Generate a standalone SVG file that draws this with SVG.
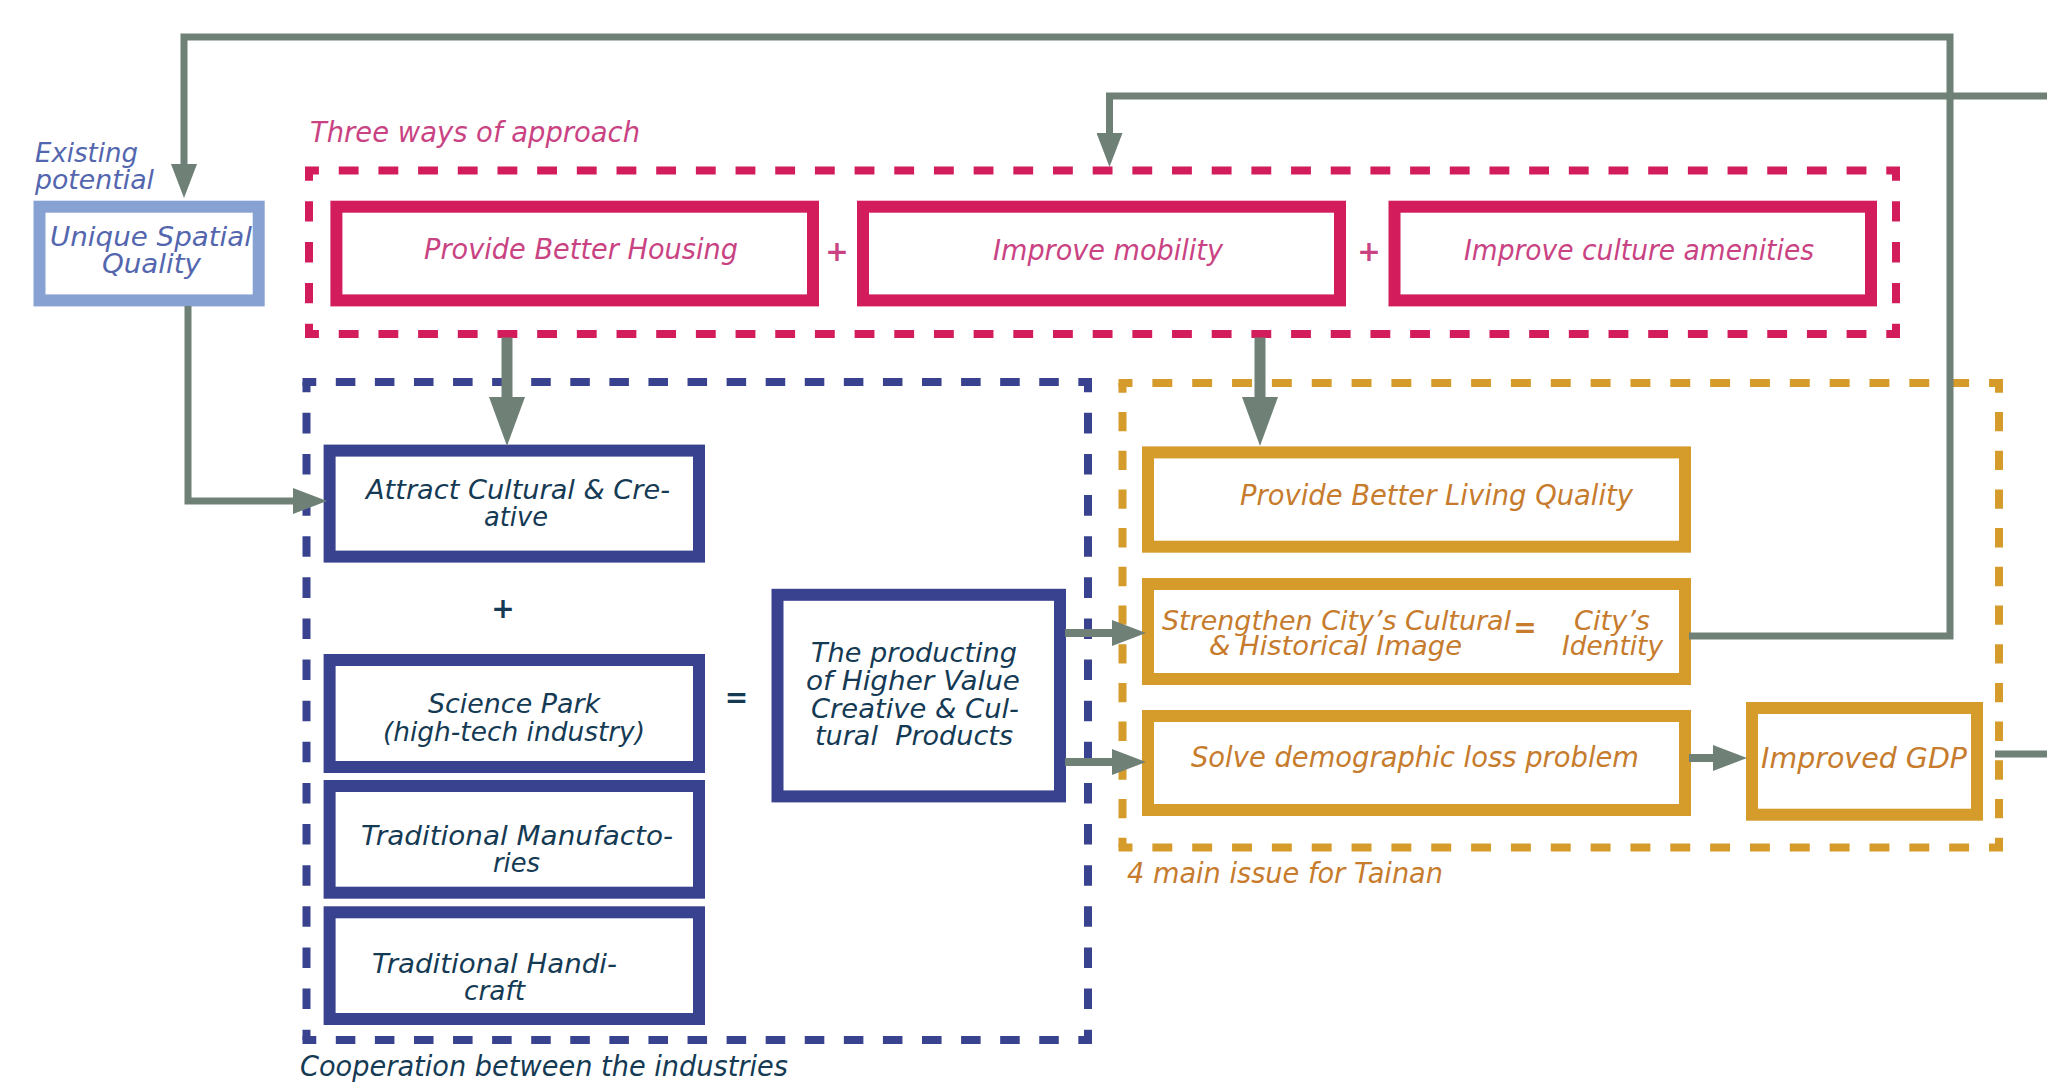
<svg xmlns="http://www.w3.org/2000/svg" width="2047" height="1087" viewBox="0 0 2047 1087">
<defs>
<style>
text { font-family: "DejaVu Sans", "Liberation Sans", sans-serif; font-style: italic; font-size: 28px; }
.t2 { font-size: 27px; }
.sym { font-style: normal; font-weight: bold; text-anchor: middle; }
.pk { fill: #c94383; }
.nv { fill: #153a54; }
.gd { fill: #c67b2d; }
.lb { fill: #5466ae; }
.box { fill: #ffffff; stroke-width: 12; }
.bp { stroke: #d31c5b; }
.bb { stroke: #39428e; }
.bg { stroke: #d59c2c; }
.bl { stroke: #88a1d3; }
.frame line { fill: none; stroke-width: 8; }
.fp line { stroke: #d31c5b; }
.fb line { stroke: #39428e; }
.fg line { stroke: #d59c2c; }
.conn { fill: none; stroke: #6f8077; stroke-width: 7; stroke-linejoin: miter; }
.thick { stroke-width: 11; }
.mid { stroke-width: 8; }
</style>
<marker id="ah" markerUnits="userSpaceOnUse" markerWidth="34" markerHeight="26" refX="0" refY="13" orient="auto" viewBox="0 0 34 26">
<path d="M0,0 L34,13 L0,26 z" fill="#6f8077"/>
</marker>
<marker id="ahL" markerUnits="userSpaceOnUse" markerWidth="49" markerHeight="36" refX="0" refY="18" orient="auto" viewBox="0 0 49 36">
<path d="M0,0 L49,18 L0,36 z" fill="#6f8077"/>
</marker>
</defs>
<rect x="0" y="0" width="2047" height="1087" fill="#ffffff"/>

<g id="frame-approach" class="frame fp">
<line x1="305" y1="170.5" x2="1900" y2="170.5" stroke-dasharray="19.84 19.84" stroke-dashoffset="5.92"/>
<line x1="305" y1="334" x2="1900" y2="334" stroke-dasharray="19.84 19.84" stroke-dashoffset="5.92"/>
<line x1="309" y1="170.5" x2="309" y2="334" stroke-dasharray="20.44 20.44" stroke-dashoffset="10.22"/>
<line x1="1896" y1="170.5" x2="1896" y2="334" stroke-dasharray="20.44 20.44" stroke-dashoffset="10.22"/>
<text class="pk" x="310" y="142" textLength="330" lengthAdjust="spacingAndGlyphs">Three ways of approach</text>
</g>
<g id="frame-industries" class="frame fb">
<line x1="302.5" y1="382" x2="1092" y2="382" stroke-dasharray="19.54 19.54" stroke-dashoffset="5.77"/>
<line x1="302.5" y1="1040" x2="1092" y2="1040" stroke-dasharray="19.54 19.54" stroke-dashoffset="5.77"/>
<line x1="306.5" y1="382" x2="306.5" y2="1040" stroke-dasharray="20.56 20.56" stroke-dashoffset="10.28"/>
<line x1="1088" y1="382" x2="1088" y2="1040" stroke-dasharray="20.56 20.56" stroke-dashoffset="10.28"/>
<text class="nv" x="300" y="1076" textLength="488" lengthAdjust="spacingAndGlyphs">Cooperation between the industries</text>
</g>
<g id="frame-issues" class="frame fg">
<line x1="1118.5" y1="383" x2="2003" y2="383" stroke-dasharray="19.92 19.92" stroke-dashoffset="5.96"/>
<line x1="1118.5" y1="847.5" x2="2003" y2="847.5" stroke-dasharray="19.92 19.92" stroke-dashoffset="5.96"/>
<line x1="1122.5" y1="383" x2="1122.5" y2="847.5" stroke-dasharray="19.35 19.35" stroke-dashoffset="9.68"/>
<line x1="1999" y1="383" x2="1999" y2="847.5" stroke-dasharray="19.35 19.35" stroke-dashoffset="9.68"/>
<text class="gd" x="1127" y="883" textLength="316" lengthAdjust="spacingAndGlyphs">4 main issue for Tainan</text>
</g>

<g id="node-unique-spatial-quality">
<text class="lb t2" x="35" y="162" textLength="103" lengthAdjust="spacingAndGlyphs">Existing</text>
<text class="lb t2" x="35" y="189" textLength="119" lengthAdjust="spacingAndGlyphs">potential</text>
<rect class="box bl" x="39.5" y="206.7" width="219.2" height="93.7"/>
<text class="lb t2" x="50" y="246" textLength="202" lengthAdjust="spacingAndGlyphs">Unique Spatial</text>
<text class="lb t2" x="102" y="273" textLength="99" lengthAdjust="spacingAndGlyphs">Quality</text>
</g>
<g id="node-housing">
<rect class="box bp" x="336.4" y="206.7" width="476.6" height="93.7"/>
<text class="pk" x="424" y="259" textLength="314" lengthAdjust="spacingAndGlyphs">Provide Better Housing</text>
</g>
<text class="pk sym" x="837" y="261" font-size="34">+</text>
<g id="node-mobility">
<rect class="box bp" x="863" y="206.7" width="477" height="93.7"/>
<text class="pk" x="993" y="260" textLength="230" lengthAdjust="spacingAndGlyphs">Improve mobility</text>
</g>
<text class="pk sym" x="1369" y="261" font-size="34">+</text>
<g id="node-culture">
<rect class="box bp" x="1394.5" y="206.7" width="476.5" height="93.7"/>
<text class="pk" x="1464" y="260" textLength="350" lengthAdjust="spacingAndGlyphs">Improve culture amenities</text>
</g>

<g id="node-attract">
<rect class="box bb" x="329.6" y="450.6" width="369.4" height="106"/>
<text class="nv t2" x="366" y="499" textLength="304" lengthAdjust="spacingAndGlyphs">Attract Cultural &amp; Cre-</text>
<text class="nv t2" x="484" y="526" textLength="64" lengthAdjust="spacingAndGlyphs">ative</text>
</g>
<text class="nv sym" x="503" y="618" font-size="34">+</text>
<g id="node-science-park">
<rect class="box bb" x="329.6" y="660" width="369.4" height="107"/>
<text class="nv t2" x="428" y="713" textLength="172" lengthAdjust="spacingAndGlyphs">Science Park</text>
<text class="nv t2" x="383" y="741" textLength="262" lengthAdjust="spacingAndGlyphs">(high-tech industry)</text>
</g>
<g id="node-manufactories">
<rect class="box bb" x="329.6" y="786" width="369.4" height="106.7"/>
<text class="nv t2" x="361" y="845" textLength="312" lengthAdjust="spacingAndGlyphs">Traditional Manufacto-</text>
<text class="nv t2" x="493" y="872" textLength="47" lengthAdjust="spacingAndGlyphs">ries</text>
</g>
<g id="node-handicraft">
<rect class="box bb" x="329.6" y="912.3" width="369.4" height="106.7"/>
<text class="nv t2" x="372" y="973" textLength="245" lengthAdjust="spacingAndGlyphs">Traditional Handi-</text>
<text class="nv t2" x="464" y="1000" textLength="61" lengthAdjust="spacingAndGlyphs">craft</text>
</g>
<text class="nv sym" x="736.5" y="707" font-size="36">=</text>
<g id="node-products">
<rect class="box bb" x="777.5" y="594.8" width="282.5" height="201.6"/>
<text class="nv t2" x="811" y="662" textLength="206" lengthAdjust="spacingAndGlyphs">The producting</text>
<text class="nv t2" x="806" y="690" textLength="214" lengthAdjust="spacingAndGlyphs">of Higher Value</text>
<text class="nv t2" x="811" y="718" textLength="208" lengthAdjust="spacingAndGlyphs">Creative &amp; Cul-</text>
<text class="nv t2" x="815" y="745" textLength="198" lengthAdjust="spacingAndGlyphs" style="white-space:pre">tural  Products</text>
</g>

<g id="node-living-quality">
<rect class="box bg" x="1148" y="452.4" width="537" height="94.3"/>
<text class="gd" x="1240" y="505" textLength="393" lengthAdjust="spacingAndGlyphs">Provide Better Living Quality</text>
</g>
<g id="node-identity">
<rect class="box bg" x="1148" y="584" width="537" height="95"/>
<text class="gd t2" x="1162" y="630" textLength="349" lengthAdjust="spacingAndGlyphs">Strengthen City’s Cultural</text>
<text class="gd t2" x="1209" y="655" textLength="253" lengthAdjust="spacingAndGlyphs">&amp; Historical Image</text>
<text class="gd sym" x="1525" y="637" font-size="28">=</text>
<text class="gd t2" x="1574" y="630" textLength="76" lengthAdjust="spacingAndGlyphs">City’s</text>
<text class="gd t2" x="1562" y="655" textLength="101" lengthAdjust="spacingAndGlyphs">Identity</text>
</g>
<g id="node-demographic">
<rect class="box bg" x="1148" y="716" width="537" height="94"/>
<text class="gd" x="1191" y="767" textLength="448" lengthAdjust="spacingAndGlyphs">Solve demographic loss problem</text>
</g>
<g id="node-gdp">
<rect class="box bg" x="1752" y="708" width="225" height="106.7"/>
<text class="gd" x="1761" y="768" textLength="206" lengthAdjust="spacingAndGlyphs">Improved GDP</text>
</g>

<g id="connectors">
<path class="conn" d="M1689,636 H1950 V37 H184 V164" marker-end="url(#ah)"/>
<path class="conn" d="M2047,96 H1109.5 V133" marker-end="url(#ah)"/>
<path class="conn" d="M188,306 V501 H293" marker-end="url(#ah)"/>
<path class="conn thick" d="M507,337.5 V397" marker-end="url(#ahL)"/>
<path class="conn thick" d="M1260,337.5 V397" marker-end="url(#ahL)"/>
<path class="conn mid" d="M1065,633 H1112" marker-end="url(#ah)"/>
<path class="conn mid" d="M1065,762 H1112" marker-end="url(#ah)"/>
<path class="conn mid" d="M1689,758 H1713" marker-end="url(#ah)"/>
<path class="conn" d="M1995,754 H2047"/>
</g>
</svg>
